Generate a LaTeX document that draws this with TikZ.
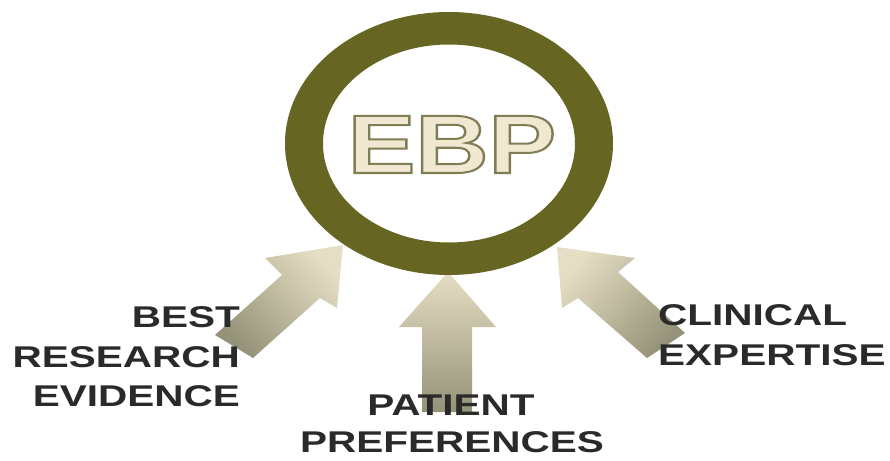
\documentclass[tikz,border=0pt]{standalone}
\usepackage{fontspec}
\setmainfont{Liberation Sans}
\definecolor{ringolive}{RGB}{102,102,34}
\definecolor{ebpcream}{RGB}{240,232,208}
\definecolor{arrowlight}{RGB}{230,222,196}
\definecolor{arrowdark}{RGB}{148,146,120}
\definecolor{txtgray}{RGB}{42,42,42}
\newcommand{\wide}[2]{\scalebox{#1}[1.0]{#2}}
% filled letters with a stroked edge
\newcommand{\edged}[1]{\textcolor{ebpcream}{\special{pdf:code q 2 Tr 2 w 0.50 0.49 0.33 RG}#1\special{pdf:code Q}}}

\begin{document}
\begin{tikzpicture}[x=1pt,y=-1pt,
  lbl/.style={inner sep=0pt,text=txtgray,font=\bfseries\fontsize{30}{40}\selectfont},
  bigarrow/.style={top color=arrowlight,bottom color=arrowdark}]
\useasboundingbox (0,0) rectangle (890,460);
% arrows
\shade[bigarrow,shading angle=-47] (343,245) -- (337,308) -- (320,298) -- (253,358) -- (215,335) -- (282,275) -- (265,258) -- cycle;
\shade[bigarrow] (448,272) -- (496,327) -- (472,327) -- (472,412) -- (422,412) -- (422,327) -- (399,327) -- cycle;
\shade[bigarrow,shading angle=48] (557,247) -- (635,258) -- (618,272) -- (685,333) -- (647,358) -- (578,298) -- (562,308) -- cycle;
% ring
\fill[ringolive,even odd rule] (449,143.5) ellipse [x radius=164,y radius=131.5]
  (449,143.5) ellipse [x radius=126,y radius=99];
\node[inner sep=0pt,anchor=base,font=\bfseries\fontsize{83}{83}\selectfont] (ebp) at (452,173)
  {\wide{1.22}{\edged{EBP}}};
% labels
\node[lbl,anchor=base east] (best) at (240,327) {\wide{1.35}{BEST}};
\node[lbl,anchor=base east] (research) at (240,367) {\wide{1.35}{RESEARCH}};
\node[lbl,anchor=base east] (evidence) at (240,406) {\wide{1.35}{EVIDENCE}};
\node[lbl,anchor=base west] (clinical) at (658,325) {\wide{1.35}{CLINICAL}};
\node[lbl,anchor=base west] (expertise) at (658,365) {\wide{1.35}{EXPERTISE}};
\node[lbl,anchor=base] (patient) at (451,415) {\wide{1.35}{PATIENT}};
\node[lbl,anchor=base] (preferences) at (452,452) {\wide{1.35}{PREFERENCES}};
\end{tikzpicture}
\end{document}
